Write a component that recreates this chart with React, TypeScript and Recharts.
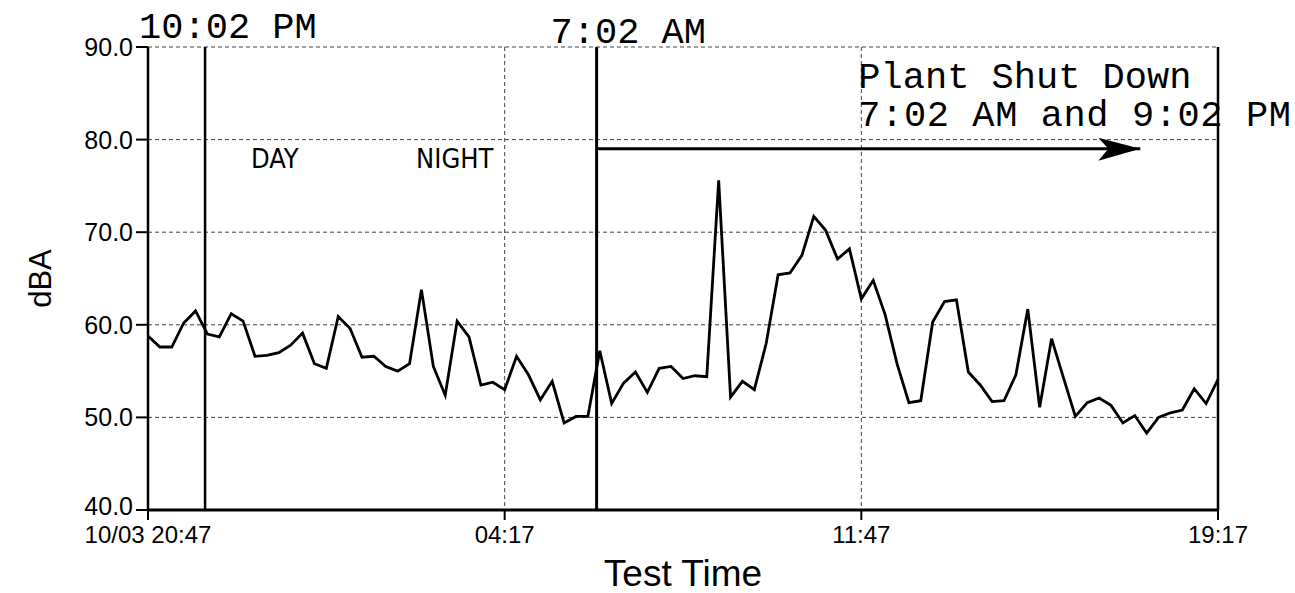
import React from 'react';
import {
  LineChart,
  Line,
  XAxis,
  YAxis,
  CartesianGrid,
  ReferenceLine,
  ReferenceDot,
  Label,
} from 'recharts';

// sound level samples, one every 15 minutes from 10/03 20:47
const SAMPLE_MINUTES = 15;
const dbaValues = [
  58.8, 57.6, 57.6, 60.2, 61.5, 59.0, 58.7, 61.2, 60.4, 56.6,
  56.7, 57.0, 57.8, 59.1, 55.8, 55.3, 60.9, 59.6, 56.5, 56.6,
  55.5, 55.0, 55.8, 63.8, 55.5, 52.4, 60.4, 58.7, 53.5, 53.8,
  53.0, 56.6, 54.6, 51.9, 53.9, 49.4, 50.1, 50.1, 57.2, 51.5,
  53.7, 54.9, 52.7, 55.3, 55.5, 54.2, 54.5, 54.4, 75.6, 52.2,
  53.9, 53.0, 58.0, 65.4, 65.6, 67.5, 71.7, 70.2, 67.1, 68.2,
  62.8, 64.8, 61.1, 55.8, 51.6, 51.8, 60.3, 62.5, 62.7, 54.9,
  53.5, 51.7, 51.8, 54.6, 61.7, 51.1, 58.5, 54.3, 50.1, 51.6,
  52.1, 51.3, 49.4, 50.2, 48.3, 50.0, 50.5, 50.8, 53.1, 51.5,
  54.1,
];

const xTicks = [0, 450, 900, 1350];
const xTickLabels = ['10/03 20:47', '04:17', '11:47', '19:17'];
const yTicks = [40, 50, 60, 70, 80, 90];

// annotations (minutes after start, dBA)
const eveningMark = 72;
const morningMark = 566;
const arrowEnd = 1252;
const arrowLevel = 79;
const periodLabels = [
  { name: 'DAY', min: 160, level: 78 },
  { name: 'NIGHT', min: 387, level: 78 },
];

const data = dbaValues.map((v, i) => ({ min: i * SAMPLE_MINUTES, dba: v }));

const mono = '"Liberation Mono", "Courier New", monospace';
const sans = '"Liberation Sans", Arial, sans-serif';
const narrow = '"Liberation Sans Narrow", "Arial Narrow", "DejaVu Sans Condensed", sans-serif';

const topLabel = (text: string, dx: number, dy: number) => (props: any) => {
  const vb = props.viewBox;
  return (
    <text x={vb.x + dx} y={vb.y + dy} fontFamily={mono} fontSize={37} fill="#000">
      {text}
    </text>
  );
};

const arrowLabel = (props: any) => {
  const vb = props.viewBox;
  const tipX = vb.x + vb.width;
  const y = vb.y;
  return (
    <g>
      <polygon points={`${tipX},${y} ${tipX - 42},${y - 11} ${tipX - 32},${y} ${tipX - 42},${y + 12}`} fill="#000" />
      <text x={tipX - 282} y={y - 61} fontFamily={mono} fontSize={37} fill="#000">
        Plant Shut Down
      </text>
      <text x={tipX - 282} y={y - 23} fontFamily={mono} fontSize={37} letterSpacing={0.6} fill="#000">
        7:02 AM and 9:02 PM
      </text>
    </g>
  );
};

const periodLabel = (text: string) => (props: any) => {
  const vb = props.viewBox;
  return (
    <text
      x={vb.x + vb.width / 2}
      y={vb.y + vb.height / 2}
      textAnchor="middle"
      dominantBaseline="central"
      fontFamily={narrow}
      fontSize={27}
      fill="#000"
    >
      {text}
    </text>
  );
};

const dbaLabel = (props: any) => {
  const vb = props.viewBox;
  const cx = 40;
  const cy = vb.y + vb.height / 2;
  return (
    <text
      x={cx}
      y={cy}
      transform={`rotate(-90, ${cx}, ${cy})`}
      textAnchor="middle"
      dominantBaseline="central"
      fontFamily={sans}
      fontSize={31}
      fill="#000"
    >
      dBA
    </text>
  );
};

const tickStyle = { fill: '#000', fontSize: 24, fontFamily: sans };

// y tick text; the bottom one sits a little higher so it clears the first time label
const yTick = (anchor: 'start' | 'end') => (props: any) => {
  const { x, y, payload } = props;
  const lift = payload.value === 40 ? 4 : 0;
  return (
    <text
      x={x}
      y={y - lift}
      textAnchor={anchor}
      dominantBaseline="central"
      fontFamily={sans}
      fontSize={25}
      fill="#000"
    >
      {Number(payload.value).toFixed(1)}
    </text>
  );
};

export default function App() {
  return (
    <div style={{ position: 'absolute', left: 0, top: 0, background: '#fff' }}>
      <LineChart width={1295} height={593} data={data} margin={{ top: 47, right: 0, bottom: 0, left: 0 }}>
        <CartesianGrid yAxisId="l" stroke="#444" strokeDasharray="4 3" strokeWidth={1} />
        <XAxis
          type="number"
          dataKey="min"
          domain={[0, 1350]}
          ticks={xTicks}
          interval={0}
          tickFormatter={(v: number) => xTickLabels[xTicks.indexOf(v)] ?? ''}
          height={83}
          tickSize={10}
          tickMargin={6}
          axisLine={{ stroke: '#000', strokeWidth: 3 }}
          tickLine={{ stroke: '#000', strokeWidth: 2 }}
          tick={tickStyle}
        >
          <Label
            value="Test Time"
            position="insideBottom"
            offset={7}
            style={{ fill: '#000', fontSize: 37, fontFamily: sans }}
          />
        </XAxis>
        <YAxis
          yAxisId="l"
          domain={[40, 90]}
          ticks={yTicks}
          interval={0}
          width={148}
          tickSize={12}
          tickMargin={3}
          axisLine={{ stroke: '#000', strokeWidth: 2.5 }}
          tickLine={{ stroke: '#000', strokeWidth: 2 }}
          tick={yTick('end')}
        >
          <Label content={dbaLabel} />
        </YAxis>
        <YAxis
          yAxisId="r"
          orientation="right"
          domain={[40, 90]}
          ticks={yTicks}
          interval={0}
          width={77}
          tickSize={10}
          tickMargin={2}
          axisLine={{ stroke: '#000', strokeWidth: 2.5 }}
          tickLine={{ stroke: '#000', strokeWidth: 2 }}
          tick={yTick('start')}
        />
        <ReferenceLine
          yAxisId="l"
          x={eveningMark}
          stroke="#000"
          strokeWidth={2.5}
          label={topLabel('10:02 PM', -66, -9)}
        />
        <ReferenceLine
          yAxisId="l"
          x={morningMark}
          stroke="#000"
          strokeWidth={3}
          label={topLabel('7:02 AM', -46, -4)}
        />
        <ReferenceLine
          yAxisId="l"
          segment={[
            { x: morningMark, y: arrowLevel },
            { x: arrowEnd, y: arrowLevel },
          ]}
          stroke="#000"
          strokeWidth={3}
          ifOverflow="visible"
          label={arrowLabel}
        />
        {periodLabels.map((p) => (
          <ReferenceDot
            key={p.name}
            yAxisId="l"
            x={p.min}
            y={p.level}
            r={0}
            fill="none"
            stroke="none"
            label={periodLabel(p.name)}
          />
        ))}
        <Line
          yAxisId="l"
          type="linear"
          dataKey="dba"
          stroke="#000"
          strokeWidth={2.8}
          dot={false}
          isAnimationActive={false}
        />
      </LineChart>
    </div>
  );
}
